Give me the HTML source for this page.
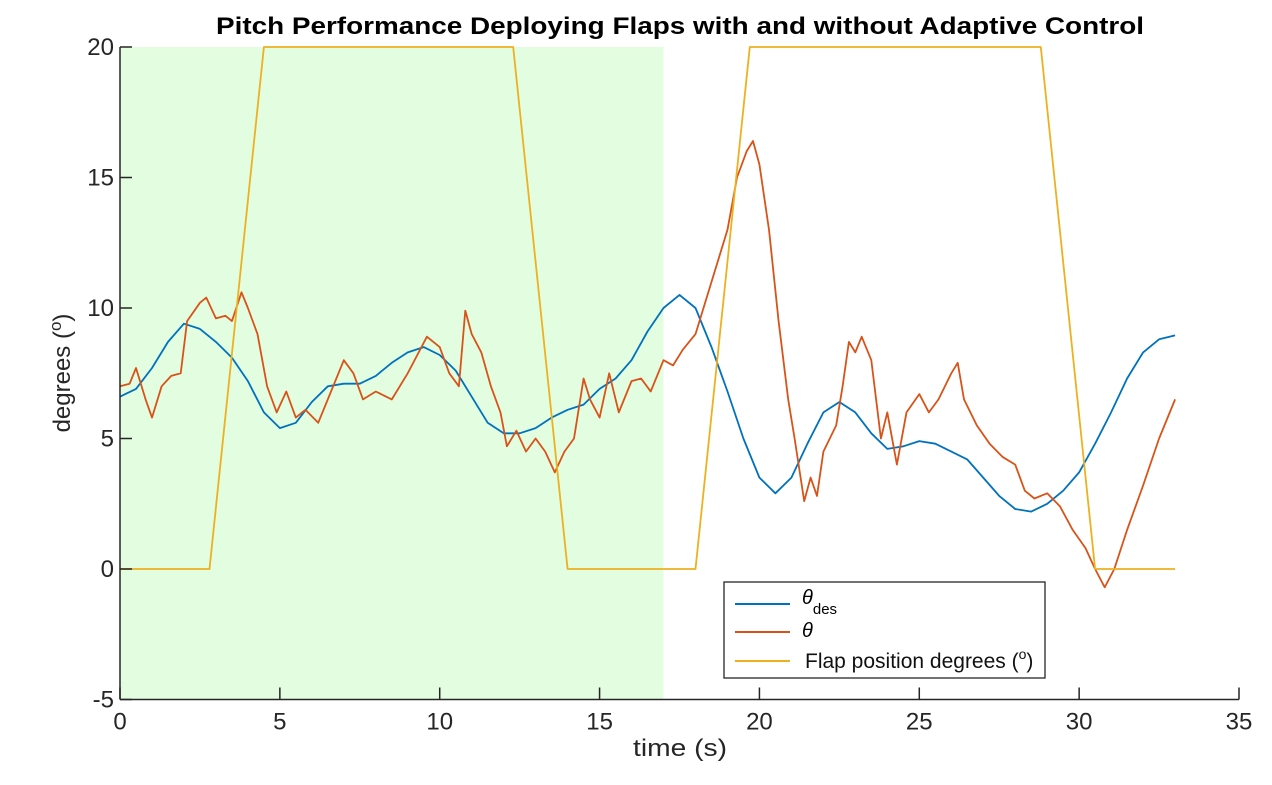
<!DOCTYPE html>
<html><head><meta charset="utf-8"><style>
body{margin:0;background:#fff;}
svg text{font-family:"Liberation Sans",sans-serif;}
</style></head><body>
<svg id="c" width="1272" height="780" xmlns="http://www.w3.org/2000/svg">
<text x="680" y="34" text-anchor="middle" font-size="24" font-weight="bold" textLength="928" lengthAdjust="spacingAndGlyphs">Pitch Performance Deploying Flaps with and without Adaptive Control</text>
<rect id="shade" fill="#e2fde0"></rect>
<g id="marks"></g>
<g id="axes"></g>
<text x="680" y="756" text-anchor="middle" font-size="24" fill="#262626" textLength="94" lengthAdjust="spacingAndGlyphs">time (s)</text>
<text transform="translate(70,373) rotate(-90)" text-anchor="middle" font-size="24" fill="#262626">degrees (<tspan font-size="17" dy="-9">o</tspan><tspan dy="9">)</tspan></text>
<g>
<rect x="724" y="582" width="321" height="96" fill="#fff" stroke="#262626" stroke-width="1.3"/>
<line x1="735" y1="604" x2="790" y2="604" stroke="#0072BD" stroke-width="2"/>
<text x="802" y="604" font-size="20" font-style="italic" font-family="Liberation Serif">θ<tspan font-size="15" font-style="normal" font-family="Liberation Sans" dy="10">des</tspan></text>
<line x1="735" y1="632" x2="790" y2="632" stroke="#D95319" stroke-width="2"/>
<text x="802" y="637" font-size="20" font-style="italic" font-family="Liberation Serif">θ</text>
<line x1="735" y1="661" x2="790" y2="661" stroke="#EDB120" stroke-width="2"/>
<text x="805" y="668" font-size="21" fill="#111">Flap position degrees (<tspan font-size="14" dy="-9">o</tspan><tspan dy="9">)</tspan></text>
</g>
</svg>
<script>
const xTicks=[0,5,10,15,20,25,30,35];
const yTicks=[-5,0,5,10,15,20];
const shadeEnd=17;
const flapT=[0,2.8,4.5,12.3,14.0,18.0,19.7,28.8,30.5,33];
const flapV=[0,0,20,20,0,0,20,20,0,0];
const desT=[0,0.5,1,1.5,2,2.5,3,3.5,4,4.5,5,5.5,6,6.5,7,7.5,8,8.5,9,9.5,10,10.5,11,11.5,12,12.5,13,13.5,14,14.5,15,15.5,16,16.5,17,17.5,18,18.5,19,19.5,20,20.5,21,21.5,22,22.5,23,23.5,24,24.5,25,25.5,26,26.5,27,27.5,28,28.5,29,29.5,30,30.5,31,31.5,32,32.5,33];
const desV=[6.6,6.9,7.7,8.7,9.4,9.2,8.7,8.1,7.2,6.0,5.4,5.6,6.4,7.0,7.1,7.1,7.4,7.9,8.3,8.5,8.2,7.6,6.6,5.6,5.2,5.2,5.4,5.8,6.1,6.3,6.9,7.3,8.0,9.1,10.0,10.5,10.0,8.5,6.8,5.0,3.5,2.9,3.5,4.8,6.0,6.4,6.0,5.2,4.6,4.7,4.9,4.8,4.5,4.2,3.5,2.8,2.3,2.2,2.5,3.0,3.7,4.8,6.0,7.3,8.3,8.8,8.95];
const thT=[0,0.3,0.5,0.8,1.0,1.3,1.6,1.9,2.1,2.5,2.7,3.0,3.3,3.5,3.8,4.0,4.3,4.6,4.9,5.2,5.5,5.8,6.2,6.5,7.0,7.3,7.6,8.0,8.5,9.0,9.3,9.6,10.0,10.3,10.6,10.8,11.0,11.3,11.6,11.9,12.1,12.4,12.7,13.0,13.3,13.6,13.9,14.2,14.5,14.7,15.0,15.3,15.6,16.0,16.3,16.6,17.0,17.3,17.6,18,18.5,19,19.3,19.6,19.8,20.0,20.3,20.6,20.9,21.1,21.4,21.6,21.8,22,22.4,22.6,22.8,23.0,23.2,23.5,23.8,24,24.3,24.6,25,25.3,25.6,26,26.2,26.4,26.8,27.2,27.6,28,28.3,28.6,29,29.4,29.8,30.2,30.5,30.8,31.1,31.5,32,32.5,33];
const thV=[7.0,7.1,7.7,6.5,5.8,7.0,7.4,7.5,9.5,10.2,10.4,9.6,9.7,9.5,10.6,10.0,9.0,7.0,6.0,6.8,5.8,6.1,5.6,6.5,8.0,7.5,6.5,6.8,6.5,7.5,8.2,8.9,8.5,7.5,7.0,9.9,9.0,8.3,7.0,6.0,4.7,5.3,4.5,5.0,4.5,3.7,4.5,5.0,7.3,6.5,5.8,7.5,6.0,7.2,7.3,6.8,8.0,7.8,8.4,9.0,11.0,13.0,15.0,16.0,16.4,15.5,13.0,9.5,6.5,5.0,2.6,3.5,2.8,4.5,5.5,7.0,8.7,8.3,8.9,8.0,5.0,6.0,4.0,6.0,6.7,6.0,6.5,7.5,7.9,6.5,5.5,4.8,4.3,4.0,3.0,2.7,2.9,2.4,1.5,0.8,0.0,-0.7,0.0,1.5,3.2,5.0,6.5];
const X=t=>120+t*(1239-120)/35;
const Y=v=>569-v*(569-47)/20;
const NS="http://www.w3.org/2000/svg";
const sh=document.getElementById('shade');
sh.setAttribute('x',X(0));sh.setAttribute('y',Y(20));
sh.setAttribute('width',X(shadeEnd)-X(0));sh.setAttribute('height',Y(-5)-Y(20));
const marks=document.getElementById('marks');
function line(ts,vs,col,name){
  const p=document.createElementNS(NS,'polyline');
  p.setAttribute('points',ts.map((t,i)=>X(t).toFixed(1)+','+Y(vs[i]).toFixed(1)).join(' '));
  p.setAttribute('fill','none');p.setAttribute('stroke',col);p.setAttribute('stroke-width','1.8');
  p.setAttribute('stroke-linejoin','round');
  
  
  marks.appendChild(p);
}
line(desT,desV,'#0072BD','theta-des-line');
line(thT,thV,'#D95319','theta-line');
line(flapT,flapV,'#EDB120','flap-position-line');
const ax=document.getElementById('axes');
let h='';
h+=`<line x1="${X(0)}" y1="${Y(-5)}" x2="${X(35)}" y2="${Y(-5)}" stroke="#262626" stroke-width="1.5"/>`;
h+=`<line x1="${X(0)}" y1="${Y(-5)}" x2="${X(0)}" y2="${Y(20)}" stroke="#262626" stroke-width="1.5"/>`;
xTicks.forEach(t=>{h+=`<line x1="${X(t)}" y1="${Y(-5)}" x2="${X(t)}" y2="${Y(-5)-12}" stroke="#262626" stroke-width="1.5"/><text x="${X(t)}" y="${Y(-5)+30}" text-anchor="middle" font-size="24" fill="#262626">${t}</text>`;});
yTicks.forEach(v=>{h+=`<line x1="${X(0)}" y1="${Y(v)}" x2="${X(0)+12}" y2="${Y(v)}" stroke="#262626" stroke-width="1.5"/><text x="${X(0)-6}" y="${Y(v)+8}" text-anchor="end" font-size="24" fill="#262626">${v}</text>`;});
ax.innerHTML=h;


</script>
</body></html>
